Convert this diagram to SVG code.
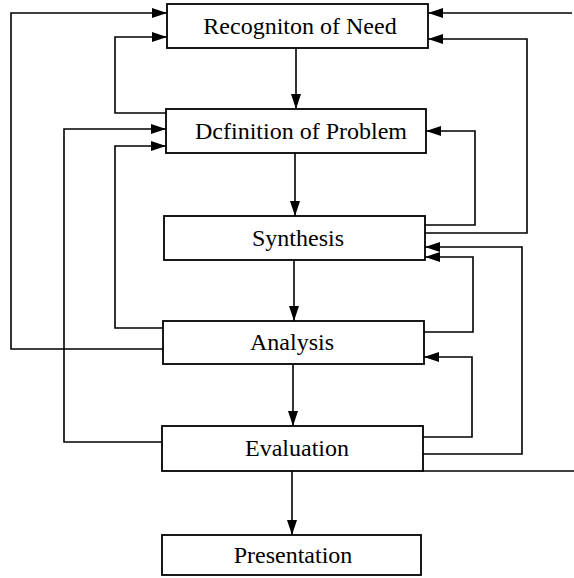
<svg xmlns="http://www.w3.org/2000/svg" width="574" height="578" viewBox="0 0 574 578">
<style>
.box{fill:#fff;stroke:#000;stroke-width:1.8}
.lbl{font-family:"Liberation Serif","Times New Roman",serif;font-size:24px;fill:#000;text-anchor:middle}
.c{fill:none;stroke:#000;stroke-width:1.6}
.a{marker-end:url(#ah)}
</style>
<defs>
<marker id="ah" markerUnits="userSpaceOnUse" markerWidth="16" markerHeight="10" refX="15" refY="5" orient="auto">
<path d="M0,0 L15,5 L0,10 z" fill="#000"/>
</marker>
</defs>
<rect width="574" height="578" fill="#fff"/>
<g id="connectors">
<path class="c a" d="M296,48 V109"/>
<path class="c a" d="M295,153 V216"/>
<path class="c a" d="M294,260 V321"/>
<path class="c a" d="M293,364 V426"/>
<path class="c a" d="M292,471 V535"/>
<path class="c a" d="M163,349 H11 V13 H167"/>
<path class="c a" d="M166,113 H115 V37 H167"/>
<path class="c a" d="M162,442 H64 V129 H166"/>
<path class="c a" d="M163,328 H115 V146 H166"/>
<path class="c a" d="M572,13 H428"/>
<path class="c a" d="M425,233 H527 V39 H428"/>
<path class="c a" d="M425,225 H475 V131 H426"/>
<path class="c a" d="M423,454 H522 V247 H425"/>
<path class="c a" d="M424,332 H473 V257 H425"/>
<path class="c a" d="M423,437 H472 V357 H424"/>
<path class="c" d="M423,471 H574"/>
</g>
<g id="recognition"><rect class="box" x="167" y="4" width="261" height="44"/><text class="lbl" x="300" y="34">Recogniton of Need</text></g>
<g id="definition"><rect class="box" x="166" y="109" width="260" height="44"/><text class="lbl" x="301" y="139">Dcfinition of Problem</text></g>
<g id="synthesis"><rect class="box" x="164" y="216" width="261" height="44"/><text class="lbl" x="298" y="246">Synthesis</text></g>
<g id="analysis"><rect class="box" x="163" y="321" width="261" height="43"/><text class="lbl" x="292" y="350">Analysis</text></g>
<g id="evaluation"><rect class="box" x="162" y="426" width="261" height="45"/><text class="lbl" x="297" y="456">Evaluation</text></g>
<g id="presentation"><rect class="box" x="162" y="535" width="259" height="40"/><text class="lbl" x="293" y="563">Presentation</text></g>
</svg>
